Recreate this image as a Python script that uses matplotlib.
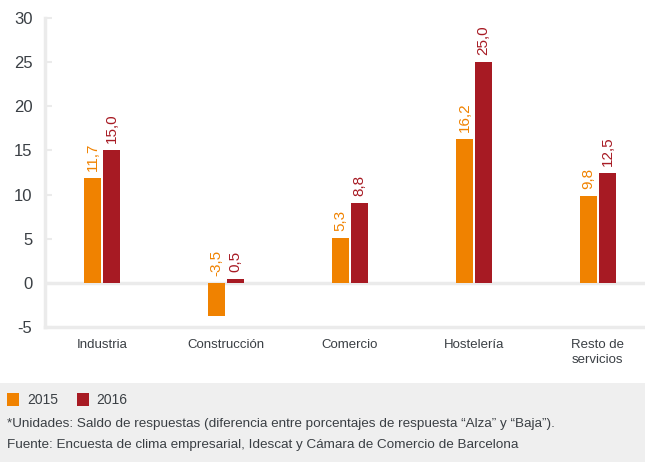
import matplotlib
matplotlib.use("Agg")
import matplotlib.pyplot as plt
import numpy as np
from matplotlib.patches import Rectangle

categories = ["Industria", "Construcción", "Comercio", "Hostelería", "Resto de\nservicios"]
series_names = ["2015", "2016"]
values_2015 = [11.9, -3.8, 5.1, 16.3, 9.8]
values_2016 = [15.0, 0.4, 9.0, 25.0, 12.5]
labels_2015 = ["11,7", "-3,5", "5,3", "16,2", "9,8"]
labels_2016 = ["15,0", "0,5", "8,8", "25,0", "12,5"]
yticks = [-5, 0, 5, 10, 15, 20, 25, 30]
note_lines = [
    "*Unidades: Saldo de respuestas (diferencia entre porcentajes de respuesta \u201cAlza\u201d y \u201cBaja\u201d).",
    "Fuente: Encuesta de clima empresarial, Idescat y Cámara de Comercio de Barcelona",
]

c15 = "#F08200"
c16 = "#A71A23"
grey = "#EBEBEB"
txt = "#3A3F44"

plt.rcParams['font.family'] = ['Liberation Sans', 'DejaVu Sans']

W, H = 645, 462
fig = plt.figure(figsize=(W / 100, H / 100), dpi=100)

# footer background
fig.patches.append(Rectangle((0, 0), 1, 79 / H, transform=fig.transFigure,
                             facecolor="#EFEFEF", edgecolor="none", zorder=0))

ax = fig.add_axes([45 / W, (H - 327) / H, (W - 45) / W, 309 / H])
x = np.arange(len(categories))
bw = 0.137
off = 0.077
ax.bar(x - off, values_2015, bw, color=c15, zorder=3)
ax.bar(x + off, values_2016, bw, color=c16, zorder=3)

ax.set_ylim(-5, 30)
ax.set_xlim(-0.46, 4.38)
ax.set_yticks(yticks)
ax.set_yticklabels([str(t) for t in yticks], fontsize=12, color=txt)
ax.tick_params(axis='y', direction='in', length=5, width=1.5, color=grey, pad=9)
ax.set_xticks(x)
ax.set_xticklabels(categories, fontsize=9.5, color=txt, linespacing=1.3)
ax.tick_params(axis='x', length=0, pad=9)
for lbl in ax.get_yticklabels():
    lbl.set_horizontalalignment('right')

for s in ["top", "right"]:
    ax.spines[s].set_visible(False)
ax.spines["left"].set_color(grey)
ax.spines["left"].set_linewidth(2.5)
ax.spines["bottom"].set_color(grey)
ax.spines["bottom"].set_linewidth(2.5)
ax.axhline(0, color=grey, lw=2.5, zorder=2)

for xi, v, l in zip(x, values_2015, labels_2015):
    base = max(v, 0)
    ax.annotate(l, (xi - off, base), xytext=(0, 5), textcoords="offset points",
                rotation=90, ha="center", va="bottom", color=c15, fontsize=11)
for xi, v, l in zip(x, values_2016, labels_2016):
    base = max(v, 0)
    ax.annotate(l, (xi + off, base), xytext=(0, 5), textcoords="offset points",
                rotation=90, ha="center", va="bottom", color=c16, fontsize=11)

# legend
fig.patches.append(Rectangle((7 / W, (H - 406) / H), 12 / W, 13 / H, transform=fig.transFigure,
                             facecolor=c15, edgecolor="none"))
fig.text(27 / W, (H - 400) / H, series_names[0], fontsize=10, color=txt, va="center")
fig.patches.append(Rectangle((77 / W, (H - 406) / H), 12 / W, 13 / H, transform=fig.transFigure,
                             facecolor=c16, edgecolor="none"))
fig.text(96 / W, (H - 400) / H, series_names[1], fontsize=10, color=txt, va="center")

fig.text(7 / W, (H - 424) / H, note_lines[0], fontsize=9.7, color=txt, va="center")
fig.text(7 / W, (H - 445) / H, note_lines[1], fontsize=9.7, color=txt, va="center")

fig.savefig("out.png", dpi=100)
